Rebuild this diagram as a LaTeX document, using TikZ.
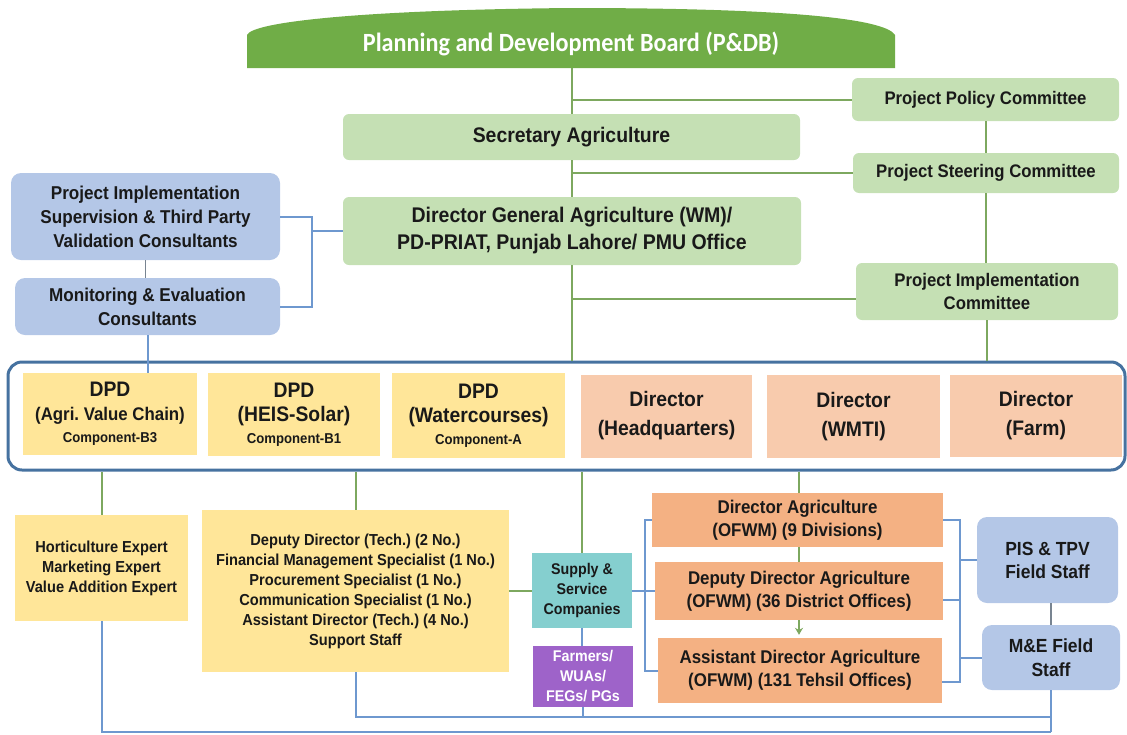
\documentclass[tikz,border=0pt]{standalone}
\usepackage{fontspec}
\setmainfont{Liberation Sans}[FakeStretch=0.92]
\newfontfamily\pdbfont{Carlito}[FakeStretch=0.92]
\usetikzlibrary{arrows.meta}
\frenchspacing

\definecolor{pdbgreen}{RGB}{112,173,71}
\definecolor{lightgreen}{RGB}{197,224,180}
\definecolor{paleblue}{RGB}{180,199,231}
\definecolor{paleyellow}{RGB}{255,230,153}
\definecolor{salmonbox}{RGB}{248,203,173}
\definecolor{orangebox}{RGB}{244,177,131}
\definecolor{supplyteal}{RGB}{133,207,207}
\definecolor{farmpurple}{RGB}{158,99,201}
\definecolor{linegreen}{RGB}{125,168,95}
\definecolor{lineblue}{RGB}{110,152,207}
\definecolor{frameblue}{RGB}{70,114,160}
\definecolor{linegray}{RGB}{120,132,145}
\definecolor{inkblack}{RGB}{25,25,25}

\tikzset{
  box/.style={draw=none, align=center, inner sep=0pt, text=inkblack},
  fs/.style 2 args={font=\bfseries\fontsize{#1}{#2}\selectfont},
  gbox/.style={box, fill=lightgreen, rounded corners=6pt},
  bbox/.style={box, fill=paleblue, rounded corners=10pt},
  ybox/.style={box, fill=paleyellow},
  sbox/.style={box, fill=salmonbox},
  obox/.style={box, fill=orangebox},
  gline/.style={draw=linegreen, line width=2pt},
  bline/.style={draw=lineblue, line width=2pt},
  tline/.style={draw=linegray, line width=1.5pt},
}

\begin{document}
\begin{tikzpicture}[x=1pt, y=-1pt]
\useasboundingbox (0,0) rectangle (1127,734);

% board banner with its arched top
\fill[pdbgreen] (247,68) -- (247,35) .. controls (252,22) and (360,10) .. (571,8)
  .. controls (780,8) and (885,18) .. (895,35) -- (895,68) -- cycle;
\node[font=\pdbfont\bfseries\fontsize{26.3}{30}\selectfont, text=white] (pdb) at (571,44)
  {Planning and Development Board (P\&DB)};
\coordinate (pdbfoot) at (572,68);

% central column
\node[gbox, fs={21.1}{26}, minimum width=457pt, minimum height=46pt] (sec) at (571.5,137) {Secretary Agriculture};
\node[gbox, fs={21.2}{27}, minimum width=458pt, minimum height=68pt] (dg) at (572,231)
  {Director General Agriculture (WM)/\\PD-PRIAT, Punjab Lahore/ PMU Office};

% committees
\node[gbox, fs={18.2}{23}, minimum width=267pt, minimum height=43pt] (ppc) at (985.5,99.5) {Project Policy Committee};
\node[gbox, fs={18.2}{23}, minimum width=266pt, minimum height=40pt] (psc) at (986,173) {Project Steering Committee};
\node[gbox, fs={18.2}{23}, minimum width=262pt, minimum height=57pt] (pic) at (987,291.5) {Project Implementation\\Committee};

% consultants
\node[bbox, fs={18.6}{24}, minimum width=269pt, minimum height=87pt] (pis) at (145.5,216.5)
  {Project Implementation\\Supervision \& Third Party\\Validation Consultants};
\node[bbox, fs={18.6}{24}, minimum width=265pt, minimum height=57pt] (mec) at (147.5,306.5)
  {Monitoring \& Evaluation\\Consultants};

% frame around the directorate row
\node[draw=frameblue, line width=3pt, rounded corners=14pt, minimum width=1117pt, minimum height=108pt, inner sep=0pt] (frame) at (566.5,416) {};

\node[ybox, fs={21}{24}, minimum width=174pt, minimum height=82pt] (dpdA) at (110,414)
  {DPD\\{\fontsize{18.3}{22}\selectfont (Agri. Value Chain)}\\[-2pt]{\fontsize{14.3}{17}\selectfont Component-B3}};
\node[ybox, fs={21}{24}, minimum width=172pt, minimum height=83pt] (dpdB) at (294,414.5)
  {DPD\\(HEIS-Solar)\\[-2pt]{\fontsize{14.3}{17}\selectfont Component-B1}};
\node[ybox, fs={21}{24}, minimum width=173pt, minimum height=85pt] (dpdC) at (478.5,415.5)
  {DPD\\(Watercourses)\\[-2pt]{\fontsize{14.3}{17}\selectfont Component-A}};
\node[sbox, fs={21}{29}, minimum width=171pt, minimum height=83pt] (dirHQ) at (666.5,416) {Director\\(Headquarters)};
\node[sbox, fs={21}{29}, minimum width=173pt, minimum height=83pt] (dirW) at (853.5,416.5) {Director\\(WMTI)};
\node[sbox, fs={21}{29}, minimum width=172pt, minimum height=82pt] (dirF) at (1036,416) {Director\\(Farm)};

% lower tier
\node[ybox, fs={15.9}{20}, minimum width=173pt, minimum height=106pt] (hort) at (101.5,568)
  {Horticulture Expert\\Marketing Expert\\Value Addition Expert};
\node[ybox, fs={15.9}{20}, minimum width=307pt, minimum height=162pt] (depl) at (355.5,591)
  {Deputy Director (Tech.) (2 No.)\\Financial Management Specialist (1 No.)\\Procurement Specialist (1 No.)\\Communication Specialist (1 No.)\\Assistant Director (Tech.) (4 No.)\\Support Staff};
\node[box, fill=supplyteal, fs={15.5}{20}, minimum width=100pt, minimum height=75pt] (supp) at (582,590.5)
  {Supply \&\\Service\\Companies};
\node[box, fill=farmpurple, text=white, fs={15.5}{20}, minimum width=100pt, minimum height=61pt] (farm) at (583,676.5)
  {Farmers/\\WUAs/\\FEGs/ PGs};
\node[obox, fs={18.4}{23}, minimum width=291pt, minimum height=54pt] (da) at (797.5,520)
  {Director Agriculture\\(OFWM) (9 Divisions)};
\node[obox, fs={18.4}{23}, minimum width=288pt, minimum height=58pt] (dda) at (799,591)
  {Deputy Director Agriculture\\(OFWM) (36 District Offices)};
\node[obox, fs={18.4}{23}, minimum width=284pt, minimum height=65pt] (ada) at (800,670.5)
  {Assistant Director Agriculture\\(OFWM) (131 Tehsil Offices)};
\node[bbox, fs={19}{23}, minimum width=141pt, minimum height=86pt] (pisf) at (1047.5,560)
  {PIS \& TPV\\Field Staff};
\node[bbox, fs={19}{24}, minimum width=138pt, minimum height=65pt] (mef) at (1051,657.5)
  {M\&E Field\\Staff};

% main trunk and committee links
\draw[gline] (pdbfoot) -- (pdbfoot |- sec.north);
\draw[gline] (sec.south -| pdbfoot) -- (dg.north -| pdbfoot);
\draw[gline] (dg.south -| pdbfoot) -- (frame.north -| pdbfoot);
\draw[gline] (ppc.west) -- (ppc.west -| pdbfoot);
\draw[gline] (psc.west) -- (psc.west -| pdbfoot);
\draw[gline] ([yshift=-7pt]pic.west) -- ([yshift=-7pt]pic.west -| pdbfoot);
\draw[gline] (ppc.south) -- (ppc.south |- psc.north);
\draw[gline] (psc.south) -- (psc.south |- pic.north);
\draw[gline] (pic.south) -- (pic.south |- frame.north);

% consultants
\coordinate (cbx) at (312,0);
\draw[bline] (pis.east) -| (cbx |- mec.east) -- (mec.east);
\draw[bline] (dg.west) -- (dg.west -| cbx);
\draw[tline] (pis.south) -- (pis.south |- mec.north);
\draw[bline] (mec.south) -- (mec.south |- dpdA.north);

% from the directorate row down
\draw[gline] (hort.north) -- (hort.north |- frame.south);
\draw[gline] (depl.north) -- (depl.north |- frame.south);
\draw[gline] (supp.north) -- (supp.north |- frame.south);
\draw[gline] (depl.east) -- (depl.east -| supp.west);
\draw[gline] (frame.south -| dda.north) -- (da.north -| dda.north);
\draw[gline] (da.south -| dda.north) -- (dda.north);
\draw[gline, -{Stealth[length=7pt,width=8pt]}, shorten >=3pt] (dda.south) -- (dda.south |- ada.north);

% field office brackets
\coordinate (lbx) at (645,0);
\draw[bline] (da.west) -| (lbx |- ada.west) -- (ada.west);
\draw[bline] (dda.west) -- (dda.west -| lbx);
\draw[bline] (supp.east) -- (supp.east -| lbx);
\coordinate (rbx) at (960,0);
\draw[bline] (da.east) -| ([yshift=-11.5pt]ada.east -| rbx) -- ([yshift=-11.5pt]ada.east);
\draw[bline] ([yshift=-9pt]dda.east) -- ([yshift=-9pt]dda.east -| rbx);
\draw[bline] (pisf.west) -- (pisf.west -| rbx);
\draw[bline] (mef.west) -- (mef.west -| rbx);
\draw[tline] (mef.north) -- (mef.north |- pisf.south);

% return lines along the bottom
\coordinate (bot1) at (1051,717);
\coordinate (bot2) at (1051,732);
\draw[bline] (mef.south) -- (bot2);
\draw[bline] (depl.south) |- (bot1);
\draw[bline] (hort.south) |- (bot2);
\draw[bline] (supp.south) -- (supp.south |- farm.north);
\draw[bline] (farm.south) -- (farm.south |- bot1);
\end{tikzpicture}
\end{document}
